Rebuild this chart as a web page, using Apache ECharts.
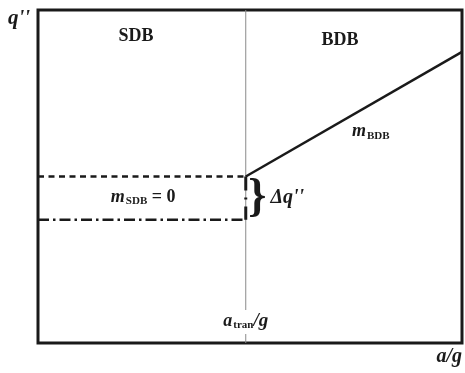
<!DOCTYPE html>
<html>
<head>
<meta charset="utf-8">
<script src="https://cdn.jsdelivr.net/npm/echarts@6/dist/echarts.min.js"></script>
<style>
  html, body { margin: 0; padding: 0; background: #fff; }
  #chart { width: 465px; height: 373px; }
</style>
</head>
<body>
<div id="chart"></div>
<script>
// Normalised axes: a/g and q'' both run 0..100
const xRange = [0, 100];
const yRange = [0, 100];

// Transition acceleration a_tran/g
const aTran = 49;

// Heat flux levels to the left of the transition
const qSdbUpper = 50;   // dashed level
const qSdbLower = 37;   // dash-dot level

// Linear BDB branch: [a/g, q'']
const bdbLine = [[49, 50], [100, 87.4]];

// Label anchors in data coordinates
const regionLabels = [
  { name: 'SDB', pos: [23.1, 92.0] },
  { name: 'BDB', pos: [71.2, 91.0] }
];
const mBdbPos = [78.5, 63.6];
const mSdbPos = [24.8, 43.8];
const deltaPos = [58.8, 43.5];
const bracePos = [51.7, 43.4];
const aTranLabelPos = [49, 6.3];

const ink = '#1a1a1a';
const serif = '"Liberation Serif", "DejaVu Serif", serif';

const baseLabel = {
  show: true, position: 'inside', fontFamily: serif, color: ink,
  textBorderWidth: 0, textShadowBlur: 0, opacity: 1
};

const richBase = {
  i: { fontFamily: serif, fontStyle: 'italic', fontWeight: 'bold', fontSize: 18, color: ink, textBorderWidth: 0 },
  s: { fontFamily: serif, fontWeight: 'bold', fontSize: 11, color: ink, padding: [9, 0, 0, 1], textBorderWidth: 0 },
  n: { fontFamily: serif, fontWeight: 'bold', fontSize: 18, color: ink, textBorderWidth: 0 }
};

const textPoint = (pos, label) => ({
  value: pos,
  itemStyle: { color: ink, opacity: 1 },
  label: Object.assign({}, baseLabel, label)
});

const chart = echarts.init(document.getElementById('chart'));
chart.setOption({
  animation: false,
  backgroundColor: '#fff',
  grid: {
    left: 38, right: 3, top: 10, bottom: 30,
    show: true, borderColor: ink, borderWidth: 3, backgroundColor: 'transparent'
  },
  xAxis: {
    type: 'value', min: xRange[0], max: xRange[1],
    axisLine: { show: false }, axisTick: { show: false },
    axisLabel: { show: false }, splitLine: { show: false }
  },
  yAxis: {
    type: 'value', min: yRange[0], max: yRange[1],
    axisLine: { show: false }, axisTick: { show: false },
    axisLabel: { show: false }, splitLine: { show: false }
  },
  series: [
    {
      // transition boundary
      type: 'line', data: [[aTran, yRange[0]], [aTran, yRange[1]]],
      symbol: 'none', lineStyle: { color: '#8a8a8a', width: 1 }, z: 1
    },
    {
      type: 'line', data: [[xRange[0], qSdbUpper], [aTran, qSdbUpper]],
      symbol: 'none', lineStyle: { color: ink, width: 2.5, type: [6, 4.5] }, z: 3
    },
    {
      type: 'line', data: [[xRange[0], qSdbLower], [aTran, qSdbLower]],
      symbol: 'none', lineStyle: { color: ink, width: 2.5, type: [11, 4, 2.5, 4] }, z: 3
    },
    {
      // jump at the transition, drawn top to bottom: dash, dot, dash
      type: 'line', data: [[aTran, qSdbUpper], [aTran, qSdbLower]],
      symbol: 'none', lineStyle: { color: ink, width: 3, type: [14, 7, 2, 7] }, z: 3
    },
    {
      type: 'line', data: bdbLine,
      symbol: 'none', lineStyle: { color: ink, width: 2.5 }, z: 3
    },
    {
      type: 'scatter', symbolSize: 0, z: 10, silent: true,
      emphasis: { disabled: true },
      data: [
        ...regionLabels.map(r => textPoint(r.pos, {
          formatter: r.name, fontWeight: 'bold', fontSize: 18
        })),
        textPoint(mBdbPos, { formatter: '{i|m}{s|BDB}', rich: richBase }),
        textPoint(mSdbPos, { formatter: '{i|m}{s|SDB}{n| = 0}', rich: richBase }),
        textPoint(deltaPos, {
          formatter: "{i|Δq''}",
          rich: { i: Object.assign({}, richBase.i, { fontSize: 20 }) }
        }),
        textPoint(bracePos, { formatter: '}', fontSize: 46, fontWeight: 'bold' }),
        textPoint(aTranLabelPos, {
          formatter: '{i|a}{s|tran}{g|/g}',
          rich: Object.assign({}, richBase, {
            g: Object.assign({}, richBase.i, { fontSize: 19 })
          }),
          backgroundColor: '#fff', padding: [1, 1, 3, 1]
        })
      ]
    }
  ],
  graphic: [
    {
      type: 'text', left: 8, top: 8,
      style: { text: "q''", fontFamily: serif, fontStyle: 'italic', fontWeight: 'bold', fontSize: 21, fill: ink }
    },
    {
      type: 'text', right: 3, top: 347,
      style: { text: 'a/g', fontFamily: serif, fontStyle: 'italic', fontWeight: 'bold', fontSize: 20, fill: ink }
    }
  ]
});
</script>
</body>
</html>
